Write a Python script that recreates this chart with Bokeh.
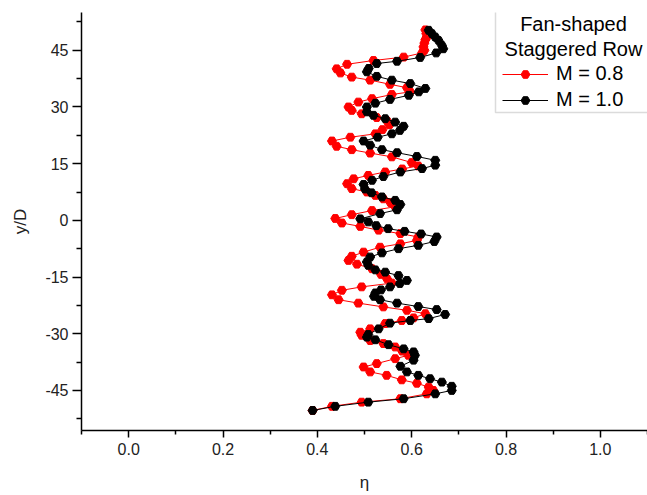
from bokeh.plotting import figure
from bokeh.models import Range1d, Legend, LegendItem, Label, BoxAnnotation, FixedTicker
from bokeh.embed import file_html
from bokeh.resources import INLINE

# ---- data ----
y_m08 = [-50.3, -49.2, -48.1, -47.2, -45.9, -45.0, -44.1, -43.1, -42.2, -41.0,
         -40.1, -38.8, -37.9, -36.6, -35.7, -34.6, -33.5, -32.6, -31.8, -30.4,
         -29.6, -28.7, -27.3, -26.5, -25.8, -24.7, -23.8, -22.9, -21.9, -21.0,
         -19.7, -18.5, -17.6, -16.6, -15.5, -14.3, -12.8, -11.6, -10.6, -9.5,
         -8.4, -7.1, -6.2, -5.3, -4.4, -3.5, -2.6, -1.6, -0.7, 0.5,
         1.5, 2.6, 3.6, 4.7, 5.7, 6.6, 7.5, 8.4, 9.7, 11.0,
         11.9, 12.8, 13.6, 14.4, 15.3, 16.8, 17.8, 18.7, 19.6, 21.0,
         22.0, 22.9, 24.0, 25.3, 26.3, 27.2, 28.2, 29.1, 30.0, 31.3,
         32.2, 33.3, 34.0, 35.1, 36.0, 37.1, 37.9, 39.0, 40.1, 41.3,
         42.3, 43.2, 44.3, 45.0, 45.9, 46.9, 47.8, 48.5, 49.4, 50.4]
eta_m08 = [0.390, 0.431, 0.494, 0.576, 0.632, 0.646, 0.636, 0.611, 0.579, 0.547,
           0.512, 0.498, 0.526, 0.565, 0.593, 0.580, 0.565, 0.540, 0.512, 0.494,
           0.491, 0.512, 0.544, 0.579, 0.604, 0.629, 0.590, 0.540, 0.487, 0.445,
           0.431, 0.452, 0.494, 0.558, 0.548, 0.535, 0.516, 0.484, 0.466, 0.473,
           0.498, 0.533, 0.576, 0.611, 0.614, 0.576, 0.530, 0.491, 0.452, 0.438,
           0.473, 0.516, 0.565, 0.555, 0.540, 0.523, 0.505, 0.473, 0.463, 0.477,
           0.508, 0.544, 0.580, 0.614, 0.600, 0.558, 0.512, 0.473, 0.441, 0.431,
           0.470, 0.523, 0.538, 0.553, 0.548, 0.526, 0.494, 0.473, 0.466, 0.487,
           0.516, 0.558, 0.597, 0.590, 0.554, 0.512, 0.473, 0.449, 0.441, 0.463,
           0.519, 0.583, 0.622, 0.627, 0.625, 0.627, 0.629, 0.632, 0.631, 0.629]

y_m10 = [-50.3, -49.2, -48.1, -47.2, -45.9, -45.0, -43.9, -42.8, -41.9, -41.0,
         -40.1, -38.6, -37.0, -35.7, -34.8, -34.0, -32.9, -31.6, -30.9, -30.2,
         -28.7, -27.2, -26.5, -26.0, -24.9, -23.6, -22.8, -21.9, -21.0, -20.1,
         -19.2, -18.4, -17.6, -16.7, -15.9, -14.6, -13.7, -13.1, -11.9, -11.0,
         -9.7, -8.6, -7.5, -6.6, -5.6, -4.4, -3.6, -2.9, -2.2, -1.4,
         -0.4, 0.4, 1.8, 2.8, 4.2, 5.3, 6.2, 7.3, 8.3, 9.5,
         10.6, 11.6, 12.8, 13.7, 14.6, 15.9, 16.9, 17.9, 18.7, 19.9,
         21.0, 22.0, 22.9, 23.8, 24.9, 26.0, 26.9, 27.8, 28.7, 30.0,
         31.0, 32.0, 33.1, 34.0, 34.9, 36.2, 37.1, 38.1, 39.3, 40.2,
         41.5, 42.1, 43.1, 44.3, 45.4, 46.3, 47.6, 48.5, 49.4, 50.3]
eta_m10 = [0.390, 0.438, 0.508, 0.583, 0.650, 0.685, 0.685, 0.664, 0.639, 0.614,
           0.590, 0.576, 0.604, 0.607, 0.604, 0.583, 0.551, 0.523, 0.505, 0.508,
           0.530, 0.554, 0.597, 0.636, 0.671, 0.653, 0.614, 0.569, 0.533, 0.520,
           0.523, 0.535, 0.554, 0.575, 0.590, 0.572, 0.544, 0.523, 0.508, 0.505,
           0.512, 0.537, 0.572, 0.614, 0.648, 0.653, 0.620, 0.585, 0.550, 0.525,
           0.508, 0.491, 0.533, 0.569, 0.576, 0.565, 0.537, 0.515, 0.501, 0.498,
           0.516, 0.540, 0.576, 0.622, 0.650, 0.650, 0.611, 0.569, 0.537, 0.512,
           0.498, 0.528, 0.558, 0.575, 0.583, 0.565, 0.544, 0.519, 0.505, 0.505,
           0.523, 0.554, 0.594, 0.615, 0.629, 0.597, 0.558, 0.526, 0.505, 0.509,
           0.526, 0.569, 0.618, 0.652, 0.667, 0.664, 0.657, 0.650, 0.643, 0.636]

x_major = [0.0, 0.2, 0.4, 0.6, 0.8, 1.0]
x_minor = [-0.1, 0.1, 0.3, 0.5, 0.7, 0.9, 1.1]
y_major = [-45, -30, -15, 0, 15, 30, 45]
y_minor = [-52.5, -37.5, -22.5, -7.5, 7.5, 22.5, 37.5, 52.5]

legend_title = ["Fan-shaped", "Staggered Row"]
series_labels = ["M = 0.8", "M = 1.0"]

FONT = "Liberation Sans"

p = figure(width=647, height=495, output_backend="svg", toolbar_location=None,
           x_range=Range1d(-0.1, 1.1), y_range=Range1d(-55.6, 55.0),
           min_border_left=81, min_border_right=0, min_border_top=12,
           min_border_bottom=65)
p.outline_line_color = None
p.grid.visible = False
p.background_fill_color = "white"
p.border_fill_color = "white"

# axes
p.xaxis.ticker = FixedTicker(ticks=x_major, minor_ticks=x_minor)
p.yaxis.ticker = FixedTicker(ticks=y_major, minor_ticks=y_minor)
p.xaxis.major_label_overrides = {v: f"{v:.1f}" for v in x_major}
p.yaxis.major_label_overrides = {v: f"{v}" for v in y_major}
for ax in (p.xaxis, p.yaxis):
    ax.axis_line_color = "black"
    ax.axis_line_width = 1.5
    ax.major_tick_line_color = "black"
    ax.major_tick_line_width = 1.5
    ax.minor_tick_line_color = "black"
    ax.minor_tick_line_width = 1.5
    ax.major_tick_in = 0
    ax.minor_tick_in = 0
    ax.major_label_text_font = FONT
    ax.major_label_text_font_size = "16px"
    ax.major_label_text_color = "#222222"
    ax.axis_label_text_font = FONT
    ax.axis_label_text_font_size = "17px"
    ax.axis_label_text_font_style = "normal"
    ax.axis_label_text_color = "#222222"
p.xaxis.major_tick_out = 7
p.xaxis.minor_tick_out = 4
p.yaxis.major_tick_out = 9
p.yaxis.minor_tick_out = 5
p.xaxis.major_label_standoff = 5
p.yaxis.major_label_standoff = 4
p.xaxis.axis_label = "η"
p.yaxis.axis_label = "y/D"
p.xaxis.axis_label_standoff = 15
p.yaxis.axis_label_standoff = 12

# series
l1 = p.line(eta_m08, y_m08, line_color="#ff0000", line_width=1)
s1 = p.scatter(eta_m08, y_m08, marker="hex", size=9, fill_color="#ff0000",
               line_color="#ff0000")
l2 = p.line(eta_m10, y_m10, line_color="black", line_width=1)
s2 = p.scatter(eta_m10, y_m10, marker="hex", size=9, fill_color="black",
               line_color="black")

# legend box + title
box = BoxAnnotation(left=414, right=580, bottom=318, top=424,
                    left_units="screen", right_units="screen",
                    bottom_units="screen", top_units="screen",
                    fill_color="white", fill_alpha=1.0,
                    line_color="#888888", line_width=1.5, level="overlay")
p.add_layout(box)
for txt, yy in zip(legend_title, [407, 382]):
    p.add_layout(Label(x=492, y=yy, x_units="screen", y_units="screen", text=txt,
                       text_align="center", text_baseline="alphabetic",
                       text_font=FONT, text_font_size="20px", text_color="black",
                       level="overlay"))

legend = Legend(items=[LegendItem(label=series_labels[0], renderers=[l1, s1]),
                       LegendItem(label=series_labels[1], renderers=[l2, s2])],
                location=(421, 319), padding=0, margin=0, spacing=3,
                glyph_width=46, glyph_height=22, label_height=22,
                label_standoff=8, label_text_font=FONT,
                label_text_font_size="20px", label_text_color="black",
                border_line_alpha=0, background_fill_alpha=0)
p.add_layout(legend)

open("out.html", "w").write(file_html(p, INLINE))
